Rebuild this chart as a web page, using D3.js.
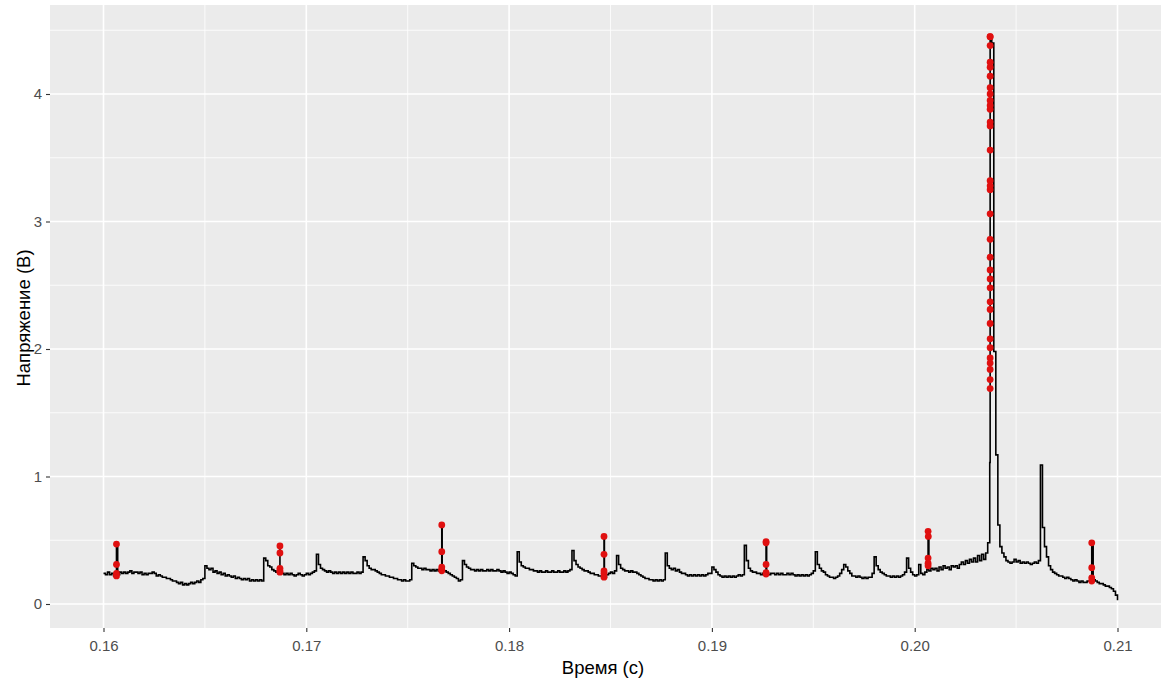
<!DOCTYPE html>
<html lang="ru">

<head>
  <meta charset="UTF-8" />
  <meta name="viewport" content="width=device-width, initial-scale=1.0" />
  <title>Напряжение от времени</title>
  <style>
    body {
      margin: 0;
      background: #fff;
    }

    svg {
      display: block;
    }

    text {
      font-family: "Liberation Sans", Arial, sans-serif;
    }

    .axis path {
      display: none;
    }

    .axis .tick line {
      stroke: #333333;
      stroke-width: 1.1;
    }

    .axis .tick text {
      font-size: 15px;
      fill: #4d4d4d;
    }

    .title {
      font-size: 18.5px;
      fill: #000;
      text-anchor: middle;
    }
  </style>
</head>

<body>
  <svg width="1161" height="680"></svg>

  <script src="https://d3js.org/d3.v7.min.js"></script>
  <script>
    // отсчёты осциллографа: начало и шаг по времени (с)
    const sampleStart = 0.16;
    const sampleStep = 0.0001;

    // напряжение (В), по одному значению на отсчёт
    const voltage = [
      0.24, 0.23, 0.25, 0.23, 0.24, 0.22, 0.24, 0.23, 0.25, 0.24,
      0.25, 0.24, 0.25, 0.26, 0.24, 0.25, 0.25, 0.24, 0.25, 0.23,
      0.24, 0.23, 0.24, 0.24, 0.25, 0.24, 0.22, 0.23, 0.22, 0.21,
      0.21, 0.20, 0.20, 0.19, 0.18, 0.18, 0.17, 0.16, 0.17, 0.15,
      0.16, 0.15, 0.16, 0.17, 0.16, 0.17, 0.18, 0.17, 0.19, 0.20,
      0.30, 0.28, 0.27, 0.28, 0.25, 0.26, 0.24, 0.25, 0.23, 0.24,
      0.22, 0.23, 0.22, 0.21, 0.22, 0.20, 0.21, 0.20, 0.19, 0.20,
      0.19, 0.20, 0.18, 0.19, 0.18, 0.19, 0.18, 0.19, 0.18, 0.36,
      0.34, 0.30, 0.29, 0.27, 0.26, 0.25, 0.24, 0.25, 0.24, 0.23,
      0.24, 0.23, 0.24, 0.23, 0.22, 0.23, 0.24, 0.23, 0.22, 0.23,
      0.24, 0.23, 0.24, 0.25, 0.26, 0.39, 0.31, 0.28, 0.27, 0.26,
      0.25, 0.26, 0.25, 0.24, 0.25, 0.24, 0.25, 0.24, 0.25, 0.24,
      0.25, 0.24, 0.25, 0.24, 0.24, 0.25, 0.24, 0.25, 0.37, 0.34,
      0.30, 0.28, 0.27, 0.27, 0.26, 0.25, 0.24, 0.23, 0.23, 0.22,
      0.22, 0.21, 0.21, 0.20, 0.20, 0.19, 0.19, 0.18, 0.19, 0.18,
      0.18, 0.19, 0.32, 0.30, 0.29, 0.28, 0.28, 0.27, 0.28, 0.27,
      0.27, 0.26, 0.27, 0.26, 0.27, 0.26, 0.27, 0.26, 0.26, 0.25,
      0.24, 0.23, 0.22, 0.21, 0.20, 0.18, 0.19, 0.34, 0.31, 0.29,
      0.28, 0.27, 0.27, 0.26, 0.27, 0.26, 0.27, 0.26, 0.26, 0.27,
      0.26, 0.27, 0.26, 0.26, 0.27, 0.26, 0.25, 0.26, 0.25, 0.24,
      0.25, 0.24, 0.23, 0.22, 0.41, 0.33, 0.30, 0.29, 0.28, 0.28,
      0.27, 0.27, 0.26, 0.26, 0.25, 0.26, 0.25, 0.25, 0.26, 0.25,
      0.25, 0.26, 0.25, 0.25, 0.26, 0.25, 0.25, 0.26, 0.25, 0.26,
      0.27, 0.42, 0.34, 0.31, 0.29, 0.28, 0.27, 0.26, 0.26, 0.25,
      0.24, 0.24, 0.23, 0.23, 0.22, 0.22, 0.21, 0.21, 0.23, 0.24,
      0.25, 0.24, 0.26, 0.38, 0.31, 0.28, 0.27, 0.26, 0.26, 0.25,
      0.26, 0.25, 0.25, 0.24, 0.23, 0.22, 0.21, 0.20, 0.20, 0.19,
      0.19, 0.18, 0.19, 0.18, 0.19, 0.18, 0.19, 0.40, 0.30, 0.28,
      0.27, 0.28, 0.26, 0.27, 0.25, 0.24, 0.24, 0.23, 0.22, 0.23,
      0.22, 0.23, 0.22, 0.23, 0.22, 0.23, 0.22, 0.23, 0.24, 0.24,
      0.29, 0.27, 0.25, 0.23, 0.22, 0.21, 0.22, 0.21, 0.22, 0.21,
      0.22, 0.21, 0.22, 0.23, 0.22, 0.23, 0.46, 0.34, 0.28, 0.26,
      0.25, 0.25, 0.24, 0.24, 0.23, 0.24, 0.23, 0.24, 0.23, 0.24,
      0.24, 0.23, 0.24, 0.23, 0.24, 0.23, 0.23, 0.24, 0.23, 0.24,
      0.23, 0.22, 0.23, 0.22, 0.23, 0.22, 0.23, 0.22, 0.23, 0.24,
      0.26, 0.41, 0.31, 0.28, 0.26, 0.25, 0.23, 0.22, 0.21, 0.21,
      0.20, 0.21, 0.22, 0.24, 0.27, 0.31, 0.29, 0.26, 0.24, 0.22,
      0.22, 0.21, 0.22, 0.21, 0.20, 0.21, 0.20, 0.21, 0.21, 0.24,
      0.37, 0.30, 0.27, 0.25, 0.24, 0.23, 0.22, 0.22, 0.21, 0.22,
      0.21, 0.22, 0.21, 0.22, 0.23, 0.25, 0.36, 0.28, 0.25, 0.23,
      0.22, 0.23, 0.31, 0.24, 0.23, 0.25, 0.27, 0.26, 0.28, 0.27,
      0.28, 0.26, 0.29, 0.27, 0.30, 0.28, 0.29, 0.27, 0.30, 0.29,
      0.30, 0.28, 0.31, 0.33, 0.31, 0.34, 0.32, 0.35, 0.33, 0.36,
      0.33, 0.38, 0.34, 0.39, 0.35, 0.40, 0.48, 1.11, 4.40, 1.98,
      1.17, 0.62, 0.45, 0.40, 0.37, 0.34, 0.33, 0.32, 0.33, 0.35,
      0.33, 0.34, 0.32, 0.33, 0.32, 0.33, 0.32, 0.31, 0.32, 0.33,
      0.32, 0.34, 1.09, 0.60, 0.45, 0.37, 0.30, 0.27, 0.25, 0.24,
      0.23, 0.22, 0.22, 0.21, 0.20, 0.21, 0.20, 0.19, 0.18, 0.19,
      0.18, 0.17, 0.18, 0.17, 0.17, 0.18, 0.18, 0.19, 0.19, 0.18,
      0.17, 0.16, 0.16, 0.15, 0.14, 0.14, 0.13, 0.12, 0.10, 0.07,
      0.03
    ];

    // отмеченные (красные) точки: время и напряжение
    const markTime = [
      0.16064, 0.16064, 0.16064, 0.16064,
      0.16870, 0.16870, 0.16870, 0.16870, 0.16870,
      0.17668, 0.17668, 0.17668, 0.17668, 0.17668,
      0.18468, 0.18468, 0.18468, 0.18468, 0.18468,
      0.19267, 0.19267, 0.19267, 0.19267, 0.19267,
      0.20066, 0.20066, 0.20066, 0.20067, 0.20066,
      0.20372, 0.20372, 0.20372, 0.20372, 0.20372, 0.20372, 0.20372, 0.20372,
      0.20372, 0.20372, 0.20372, 0.20372, 0.20372, 0.20372, 0.20372, 0.20372,
      0.20372, 0.20372, 0.20372, 0.20372, 0.20372, 0.20372, 0.20372, 0.20372,
      0.20372, 0.20372, 0.20372, 0.20372, 0.20372, 0.20372, 0.20372, 0.20372,
      0.20372,
      0.20873, 0.20873, 0.20873, 0.20873
    ];
    const markVolt = [
      0.22, 0.24, 0.31, 0.47,
      0.25, 0.26, 0.28, 0.40, 0.455,
      0.26, 0.27, 0.29, 0.41, 0.62,
      0.21, 0.24, 0.26, 0.39, 0.53,
      0.235, 0.245, 0.31, 0.48, 0.49,
      0.30, 0.32, 0.36, 0.53, 0.57,
      1.69, 1.76, 1.84, 1.89, 1.93, 2.01, 2.08, 2.20,
      2.31, 2.37, 2.48, 2.55, 2.62, 2.72, 2.86, 3.06,
      3.25, 3.28, 3.32, 3.56, 3.75, 3.78, 3.88, 3.91,
      3.95, 4.00, 4.05, 4.14, 4.21, 4.25, 4.38, 4.45,
      4.45,
      0.18, 0.205, 0.285, 0.48
    ];

    const xTicks = [0.16, 0.17, 0.18, 0.19, 0.20, 0.21];
    const yTicks = [0, 1, 2, 3, 4];

    // панель
    const panel = { left: 50, right: 1161, top: 5, bottom: 628 };

    let x = d3.scaleLinear().domain([0.16, 0.21]).range([103.5, 1117.5]);
    let y = d3.scaleLinear().domain([0, 4]).range([604, 94]);

    let svg = d3.select('svg');

    svg.append('defs').append('clipPath').attr('id', 'clip')
      .append('rect')
      .attr('x', panel.left).attr('y', panel.top)
      .attr('width', panel.right - panel.left)
      .attr('height', panel.bottom - panel.top);

    svg.append('rect')
      .attr('x', panel.left).attr('y', panel.top)
      .attr('width', panel.right - panel.left)
      .attr('height', panel.bottom - panel.top)
      .attr('fill', '#ebebeb');

    // сетка: второстепенные и основные линии
    let xMinor = x.ticks(10).filter(d => !xTicks.some(t => Math.abs(t - d) < 1e-9));
    let yMinor = d3.ticks(y.invert(panel.bottom), y.invert(panel.top), 10)
      .filter(d => !Number.isInteger(d));

    let grid = svg.append('g').attr('clip-path', 'url(#clip)');

    grid.selectAll('line.xminor')
      .data(xMinor)
      .join('line')
      .attr('class', 'xminor')
      .attr('x1', d => x(d)).attr('x2', d => x(d))
      .attr('y1', panel.top).attr('y2', panel.bottom)
      .attr('stroke', '#fff').attr('stroke-width', 0.8);

    grid.selectAll('line.yminor')
      .data(yMinor)
      .join('line')
      .attr('class', 'yminor')
      .attr('x1', panel.left).attr('x2', panel.right)
      .attr('y1', d => y(d)).attr('y2', d => y(d))
      .attr('stroke', '#fff').attr('stroke-width', 0.8);

    grid.selectAll('line.xmajor')
      .data(xTicks)
      .join('line')
      .attr('class', 'xmajor')
      .attr('x1', d => x(d)).attr('x2', d => x(d))
      .attr('y1', panel.top).attr('y2', panel.bottom)
      .attr('stroke', '#fff').attr('stroke-width', 1.6);

    grid.selectAll('line.ymajor')
      .data(yTicks)
      .join('line')
      .attr('class', 'ymajor')
      .attr('x1', panel.left).attr('x2', panel.right)
      .attr('y1', d => y(d)).attr('y2', d => y(d))
      .attr('stroke', '#fff').attr('stroke-width', 1.6);

    // линия сигнала: отсчёты + отмеченные точки, по порядку времени
    let samples = voltage.map((v, i) => ({ t: sampleStart + i * sampleStep, v: v }));
    let marks = markTime.map((t, i) => ({ t: t, v: markVolt[i] }));
    let lineData = samples.concat(marks)
      .sort((a, b) => (a.t - b.t) || (a.v - b.v));

    let lineGen = d3.line()
      .x(d => x(d.t))
      .y(d => y(d.v))
      .curve(d3.curveStepAfter);

    let plot = svg.append('g').attr('clip-path', 'url(#clip)');

    plot.append('path')
      .datum(lineData)
      .attr('d', lineGen)
      .attr('fill', 'none')
      .attr('stroke', '#000')
      .attr('stroke-width', 1.6)
      .attr('stroke-linejoin', 'miter');

    plot.selectAll('circle')
      .data(marks)
      .join('circle')
      .attr('cx', d => x(d.t))
      .attr('cy', d => y(d.v))
      .attr('r', 3.4)
      .attr('fill', '#e01010');

    // оси
    svg.append('g')
      .attr('class', 'axis')
      .attr('transform', `translate(0,${panel.bottom})`)
      .call(d3.axisBottom(x).tickValues(xTicks).tickFormat(d3.format('.2f'))
        .tickSize(4).tickPadding(8));

    svg.append('g')
      .attr('class', 'axis')
      .attr('transform', `translate(${panel.left},0)`)
      .call(d3.axisLeft(y).tickValues(yTicks).tickFormat(d3.format('d'))
        .tickSize(4).tickPadding(4));

    // подписи осей
    svg.append('text')
      .attr('class', 'title')
      .attr('x', 603)
      .attr('y', 674)
      .text('Время (с)');

    svg.append('text')
      .attr('class', 'title')
      .attr('transform', 'translate(30,318) rotate(-90)')
      .text('Напряжение (В)');
  </script>
</body>

</html>
